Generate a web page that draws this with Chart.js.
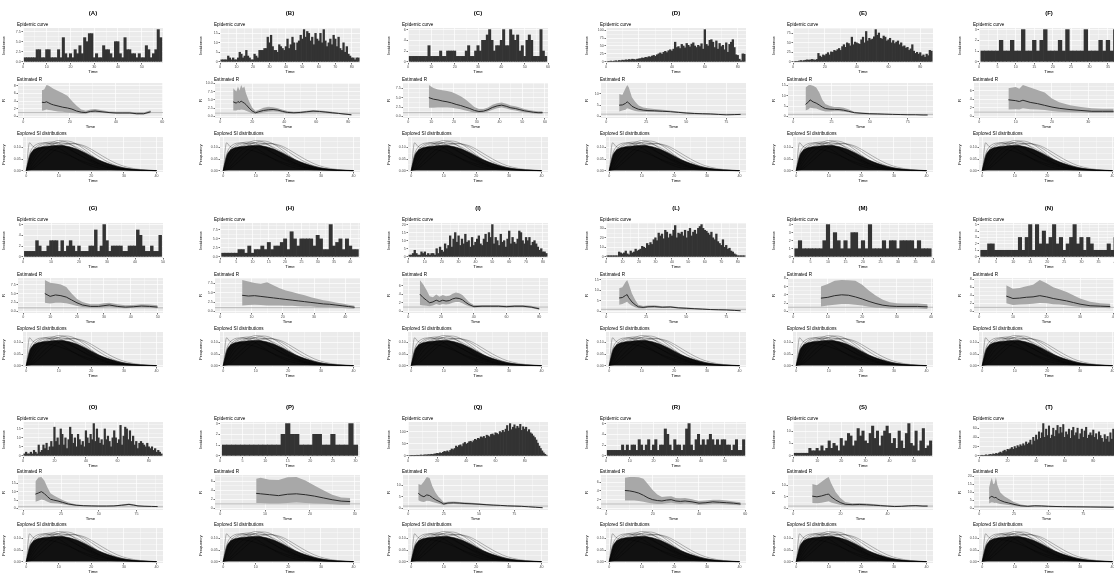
<!DOCTYPE html>
<html>
<head>
<meta charset="utf-8">
<script src="https://cdn.jsdelivr.net/npm/chart.js@4"></script>
<style>
  body { margin: 0; background: #fff; width: 1114px; height: 573px; overflow: hidden; position: relative; font-family: "Liberation Sans", Arial, sans-serif; }
  canvas { position: absolute; }
</style>
</head>
<body>
<script>
// panel letters, row by row
const letters = ['A','B','C','D','E','F','G','H','I','L','M','N','O','P','Q','R','S','T'];

// axis break steps per panel
const epiTimeStep = [10,10,10,20,20,5, 10,5,10,10,5,5, 20,5,20,10,10,20];
const epiStep     = [2.5,5,2,25,25,1, 2,2.5,5,10,1,1, 5,1,50,2,5,20];
const rTimeStep   = [20,20,10,25,25,10, 10,10,20,25,10,10, 25,10,25,20,20,25];
const rStep       = [2,2.5,2.5,5,5,2, 2.5,2.5,2,5,2,2, 5,2,5,2,5,5];

// daily incidence
const epiA = [1,1,1,1,1,3,3,1,1,3,3,1,1,1,3,1,6,2,1,2,1,3,2,4,2,6,5,7,7,1,2,1,1,4,3,3,2,1,5,5,2,1,6,3,3,2,2,1,2,1,1,4,3,1,2,3,8,6];
const epiB = [1,1,1,1,3,2,1,2,1,1,2,5,4,2,3,6,3,2,1,1,4,3,2,6,6,6,7,7,13,10,14,8,6,6,5,9,8,7,6,8,12,7,9,13,10,6,10,11,14,12,17,13,16,15,11,13,9,15,12,11,15,10,17,11,8,10,12,9,14,12,8,13,7,6,10,5,8,4,3,2,2,1,2,2];
const epiC = [1,1,1,1,1,1,1,1,3,1,1,1,1,2,1,1,2,2,2,2,1,1,1,1,2,3,1,1,2,3,2,4,4,5,6,4,2,3,3,4,6,3,3,6,5,4,5,2,3,1,4,5,4,1,1,1,6,2,1];
const epiD = [0,1,2,1,2,3,2,4,3,5,4,6,5,7,6,8,7,6,8,9,10,12,11,14,13,16,15,18,20,17,22,25,28,24,30,33,29,35,38,34,40,62,45,48,42,55,50,44,58,52,47,56,60,50,45,52,48,57,40,102,55,50,68,70,62,45,66,40,58,48,52,38,60,30,55,62,70,45,22,20,8,3,25,24];
const epiE = [0,1,1,2,3,2,3,4,5,4,5,6,5,4,6,22,15,12,18,16,20,24,18,26,25,30,28,32,35,30,40,45,38,50,48,42,65,45,52,50,48,46,58,65,50,80,55,62,58,60,66,85,70,76,62,60,68,65,55,58,62,50,56,48,52,55,45,50,40,42,36,38,30,34,45,28,22,25,20,24,15,18,12,20,16,30,28];
const epiF = [1,1,1,1,1,2,1,1,2,1,1,3,1,1,2,1,2,3,1,1,1,2,1,3,1,1,1,1,3,1,1,1,2,1,2,1,3];
const epiG = [1,1,1,1,3,2,1,1,2,3,3,3,1,3,1,2,3,2,1,2,1,1,1,2,2,5,1,2,6,3,1,2,2,2,2,1,1,2,2,2,5,4,2,1,1,2,1,1,4];
const epiH = [1,1,1,1,1,2,2,1,3,1,2,2,3,2,4,2,3,3,4,5,2,7,5,3,5,5,5,5,3,6,5,2,2,9,3,4,5,2,5,3,2,2];
const epiI = [1,1,2,4,2,1,1,3,2,3,1,2,1,2,2,1,5,2,6,4,3,8,5,7,13,6,11,15,9,13,7,11,8,14,9,10,6,12,7,9,11,13,8,7,11,14,9,15,12,20,8,12,10,7,14,9,10,6,11,16,8,12,9,8,11,16,15,10,8,12,10,12,7,9,10,8,6,4,5,3,3,2];
const epiL = [1,1,1,1,1,1,1,5,4,3,4,6,3,2,6,4,5,8,6,7,8,11,10,9,14,12,15,13,18,20,17,25,22,24,19,28,26,20,24,22,28,33,20,25,24,26,22,28,20,27,30,22,26,28,24,30,32,34,30,28,27,25,23,26,20,18,24,16,14,12,18,10,12,8,9,6,5,3,2,1,1,1,1,1];
const epiM = [1,2,1,1,1,1,1,1,2,4,1,3,2,1,2,1,3,3,1,2,1,4,1,1,1,2,1,2,2,1,2,2,2,2,1,2,1,1,1];
const epiN = [1,1,2,2,1,1,1,1,1,1,1,3,1,3,5,1,5,2,4,2,3,5,2,3,1,2,3,5,2,3,1,3,2,1,1,1,1,2,1,3];
const epiO = [1,2,1,1,2,1,3,2,1,6,2,3,6,4,7,3,5,8,5,16,8,10,6,15,12,6,10,4,9,16,12,7,10,5,12,9,6,8,5,14,10,7,12,9,18,8,15,10,7,9,6,15,9,11,8,5,10,14,10,7,9,17,6,11,16,15,9,14,8,11,6,8,4,7,8,7,6,5,7,5,4,5,3,4,2,3,2,1];
const epiP = [1,1,1,1,1,1,1,1,1,1,1,1,1,2,3,2,2,1,1,1,2,2,1,1,2,1,1,1,3,1];
const epiQ = [0,0,1,0,1,2,1,2,3,2,3,4,3,5,4,6,5,7,8,10,9,12,10,14,18,16,20,15,22,28,25,30,40,35,42,45,38,50,55,48,52,58,60,55,62,68,65,72,70,78,75,80,72,85,82,78,88,90,84,95,92,88,100,96,105,98,110,125,102,133,108,118,128,112,122,115,130,105,120,110,118,100,108,95,90,82,75,65,52,40,30,20,12,6,2];
const epiR = [1,1,1,1,1,1,2,1,2,1,2,2,1,3,2,1,2,3,1,2,3,1,2,2,5,4,2,1,3,2,2,1,2,5,6,2,1,3,4,2,3,2,3,4,3,2,3,2,3,3,2,2,1,2,3,1,1,3];
const epiS = [1,1,1,1,1,1,3,2,2,3,2,4,2,3,6,3,5,4,2,7,4,6,9,8,4,6,11,8,10,6,5,9,12,7,10,4,8,10,12,9,5,7,3,10,6,3,9,13,5,4,10,2,6,11,3,4,6];
const epiT = [0,1,0,1,2,1,2,3,2,4,3,5,4,6,8,6,10,12,9,14,13,15,18,14,20,16,22,19,24,21,26,22,30,25,28,34,24,40,32,45,35,52,38,50,70,40,58,44,65,38,45,60,42,55,66,48,62,50,68,40,52,46,58,38,55,62,44,50,60,36,48,58,40,54,62,38,45,50,44,56,40,48,35,52,44,38,30,46,36,42,30,50,36,58,44,28,60];

// estimated R: time, mean, lower and upper bound
const rtA = [8,9,10,11,12,13,15,17,19,21,23,25,27,29,31,34,37,40,43,46,49,52,55];
const rmA = [3.7,3.6,3.8,3.5,3.2,3.0,2.7,2.4,2.2,1.9,1.4,1.1,1.0,1.3,1.4,1.2,1.0,0.9,0.9,0.9,0.7,0.7,1.2];
const rlA = [1.5,1.6,1.8,1.7,1.6,1.5,1.3,1.2,1.0,0.9,0.8,0.7,0.7,1.0,1.1,0.9,0.8,0.7,0.7,0.7,0.5,0.5,0.9];
const ruA = [6.8,7.0,8.2,8.0,7.6,7.2,6.6,6.0,5.4,4.0,2.8,1.8,1.5,1.8,1.9,1.6,1.3,1.2,1.2,1.2,1.0,1.0,1.6];

const rtB = [8,10,11,12,13,14,15,16,18,20,22,24,27,30,33,36,39,42,46,50,54,58,62,66,70,74,78,82];
const rmB = [4.4,4.0,4.5,4.2,4.6,4.3,4.0,3.6,2.5,1.6,1.1,1.4,1.8,2.0,2.1,1.9,1.5,1.2,1.1,1.2,1.4,1.6,1.5,1.3,1.1,0.9,0.7,0.5];
const rlB = [1.8,1.8,2.0,1.9,2.1,2.0,1.9,1.7,1.3,0.9,0.7,0.9,1.2,1.4,1.5,1.4,1.1,0.9,0.8,0.9,1.1,1.2,1.2,1.0,0.8,0.7,0.5,0.3];
const ruB = [8.5,7.5,9.0,7.8,9.5,8.5,9.0,7.0,4.5,2.6,1.6,2.0,2.6,2.9,2.8,2.5,2.0,1.6,1.4,1.5,1.7,1.9,1.8,1.6,1.4,1.1,0.9,0.7];

const rtC = [9,11,13,15,17,19,21,23,25,27,29,31,33,35,37,39,41,43,45,47,49,51,53,55,57,59];
const rmC = [5.0,4.6,4.4,4.1,3.9,3.6,3.2,2.9,2.5,2.1,1.6,1.3,1.4,1.8,2.4,2.8,3.0,2.7,2.3,2.1,1.8,1.5,1.3,1.1,1.0,1.0];
const rlC = [2.3,2.3,2.4,2.4,2.4,2.3,2.1,1.9,1.6,1.3,1.0,0.9,1.0,1.3,1.8,2.2,2.4,2.1,1.8,1.6,1.3,1.1,0.9,0.8,0.7,0.7];
const ruC = [8.4,7.6,7.2,7.0,6.8,6.5,6.0,5.4,4.6,3.6,2.5,2.0,2.0,2.4,3.1,3.5,3.7,3.4,2.9,2.7,2.4,2.0,1.7,1.5,1.4,1.4];

const rtD = [8,10,12,13,14,16,18,20,23,26,30,35,40,45,50,55,60,65,70,75,80,84];
const rmD = [5.0,5.1,5.8,6.5,6.0,4.5,3.8,3.2,2.8,2.6,2.5,2.3,2.1,1.8,1.5,1.3,1.2,1.1,0.9,0.7,0.8,0.9];
const rlD = [2.2,2.6,3.0,3.6,3.4,2.8,2.4,2.2,2.1,2.0,2.0,1.9,1.8,1.6,1.3,1.1,1.0,0.9,0.8,0.6,0.7,0.8];
const ruD = [10.0,9.5,12.5,14.0,13.0,8.5,6.5,5.0,4.0,3.6,3.3,3.0,2.6,2.2,1.8,1.6,1.4,1.3,1.1,0.9,1.0,1.1];

const rtE = [8,10,11,13,15,17,19,21,24,27,30,33,36,40,45,50,55,60,65,70,75,80,85,88];
const rmE = [5.8,7.0,8.0,7.0,6.4,5.5,4.5,3.8,3.5,3.4,3.3,3.0,2.5,1.8,1.5,1.3,1.2,1.1,1.0,0.9,0.8,0.8,0.7,0.7];
const rlE = [2.8,3.5,4.2,4.0,3.8,3.2,2.7,2.4,2.4,2.5,2.5,2.3,2.0,1.5,1.2,1.1,1.0,0.9,0.9,0.8,0.7,0.7,0.6,0.6];
const ruE = [14.0,15.0,15.2,14.8,14.0,11.5,8.0,6.0,5.0,4.6,4.5,4.2,3.4,2.3,1.9,1.6,1.5,1.3,1.2,1.1,1.0,0.9,0.8,0.8];

const rtF = [8,10,11,12,14,16,18,20,22,25,28,31,34,37];
const rmF = [3.9,3.7,3.5,3.8,3.3,3.0,2.6,2.2,1.9,1.6,1.4,1.2,1.2,1.2];
const rlF = [1.6,1.7,1.6,1.9,1.7,1.6,1.5,1.3,1.1,1.0,0.9,0.8,0.8,0.8];
const ruF = [6.6,6.9,6.5,7.4,6.8,6.2,5.6,4.2,3.3,2.6,2.2,1.9,1.8,1.8];

const rtG = [8,10,12,14,16,18,20,22,25,28,30,32,35,38,41,44,47,50];
const rmG = [5.0,4.2,4.6,4.4,4.0,3.2,2.4,1.8,1.4,1.4,1.6,1.8,1.4,1.2,1.3,1.5,1.4,1.2];
const rlG = [2.4,2.2,2.4,2.4,2.3,1.9,1.5,1.2,1.0,1.0,1.1,1.2,1.0,0.9,1.0,1.1,1.0,0.9];
const ruG = [8.8,8.0,7.8,7.5,6.8,5.0,3.5,2.6,2.0,2.0,2.3,2.4,2.0,1.7,1.8,2.0,1.9,1.7];

const rtH = [7,9,11,13,15,17,19,21,23,25,27,29,31,33,35,37,39,41,43];
const rmH = [4.3,4.1,4.2,4.0,3.8,3.6,3.4,3.2,3.0,2.8,2.6,2.4,2.2,2.0,1.9,1.7,1.5,1.3,1.1];
const rlH = [1.6,1.7,1.8,1.7,1.6,1.6,1.6,1.5,1.5,1.4,1.3,1.3,1.2,1.1,1.1,1.0,0.9,0.8,0.7];
const ruH = [8.4,8.0,7.6,7.4,7.8,7.0,6.2,5.6,5.2,4.7,4.3,3.8,3.4,3.0,2.7,2.4,2.1,1.8,1.5];

const rtI = [7,9,11,13,15,17,19,21,23,25,27,29,31,33,35,37,40,45,50,55,60,65,70,75,80];
const rmI = [4.0,3.2,2.6,2.0,2.2,2.6,2.3,2.6,2.4,2.5,2.9,3.1,3.0,2.7,2.1,1.6,1.1,1.2,1.2,1.2,1.1,1.2,1.2,1.0,0.6];
const rlI = [1.5,1.4,1.3,1.2,1.4,1.7,1.5,1.7,1.6,1.7,2.0,2.2,2.2,1.9,1.5,1.2,0.9,1.0,1.0,1.0,0.9,1.0,1.0,0.8,0.4];
const ruI = [7.3,6.3,5.0,3.5,3.3,3.9,3.4,3.8,3.5,3.6,4.1,4.4,4.2,3.8,3.0,2.2,1.5,1.5,1.5,1.5,1.4,1.5,1.5,1.3,0.9];

const rtL = [8,10,12,13,14,16,18,20,23,26,30,35,40,45,50,55,60,65,70,75,80,84];
const rmL = [6.4,6.6,7.6,8.0,6.5,4.5,3.2,2.2,1.9,2.2,2.3,2.0,2.1,1.7,1.5,1.3,1.1,0.9,0.8,0.7,0.5,0.3];
const rlL = [3.2,3.5,4.2,4.6,3.8,2.7,2.0,1.5,1.4,1.7,1.8,1.6,1.7,1.4,1.2,1.1,0.9,0.7,0.6,0.5,0.4,0.2];
const ruL = [11.0,11.5,14.0,15.0,13.0,8.5,5.5,3.2,2.6,2.8,2.9,2.5,2.6,2.1,1.9,1.6,1.4,1.2,1.0,0.9,0.7,0.5];

const rtM = [8,10,12,14,16,18,20,22,24,26,28,30,33,36,39];
const rmM = [3.2,3.4,3.8,4.0,3.9,3.5,3.0,2.4,1.9,1.5,1.3,1.2,1.2,1.2,1.1];
const rlM = [1.2,1.4,1.6,1.8,1.8,1.6,1.4,1.1,0.9,0.8,0.7,0.7,0.7,0.7,0.6];
const ruM = [6.0,6.6,7.4,7.6,7.5,7.4,6.4,5.0,3.8,2.8,2.2,2.0,1.9,1.9,1.7];

const rtN = [8,10,12,14,16,18,20,22,24,26,28,30,33,36,39];
const rmN = [3.8,3.2,3.3,3.5,3.6,3.9,3.6,3.2,2.9,2.6,2.2,1.8,1.4,1.3,1.2];
const rlN = [2.0,1.6,1.7,1.8,1.9,2.1,2.0,1.8,1.7,1.5,1.3,1.1,0.9,0.9,0.8];
const ruN = [6.5,5.6,5.8,6.2,6.6,7.8,7.0,6.0,5.4,4.8,4.0,3.2,2.4,2.0,1.9];

const rtO = [8,10,12,14,16,18,20,23,26,30,35,40,45,50,55,60,65,70,73,76,80,85,89];
const rmO = [8.5,9.2,10.0,8.8,7.0,5.5,5.0,4.4,3.6,2.6,1.9,1.6,1.5,1.4,1.4,1.5,1.9,2.4,2.0,1.5,1.3,1.2,1.1];
const rlO = [4.0,4.6,5.3,4.8,4.0,3.3,3.1,2.9,2.5,1.9,1.5,1.3,1.2,1.1,1.1,1.2,1.5,1.9,1.6,1.2,1.0,0.9,0.8];
const ruO = [16.0,18.5,18.8,16.5,12.5,9.0,7.8,6.4,5.0,3.5,2.4,2.0,1.8,1.7,1.7,1.8,2.3,2.9,2.5,1.9,1.6,1.5,1.4];

const rtP = [8,9,11,13,15,17,19,21,23,25,27,29];
const rmP = [3.3,3.2,3.0,2.8,3.1,3.2,3.0,2.7,2.3,1.9,1.6,1.5];
const rlP = [1.2,1.2,1.1,1.1,1.2,1.3,1.2,1.1,1.0,0.9,0.8,0.8];
const ruP = [6.5,6.7,6.3,6.2,6.8,6.9,6.1,5.0,4.0,3.0,2.4,2.3];

const rtQ = [7,9,11,13,15,17,19,21,23,25,28,32,36,40,45,50,55,60,65,70,75,80,85,90,95];
const rmQ = [6.5,5.5,5.0,5.8,5.5,4.6,3.8,3.2,2.6,1.9,2.3,2.4,2.3,2.1,2.0,1.8,1.6,1.4,1.3,1.1,1.0,0.9,0.7,0.5,0.3];
const rlQ = [3.5,3.0,2.8,3.3,3.2,2.8,2.4,2.1,1.8,1.4,1.8,1.9,1.8,1.7,1.6,1.5,1.3,1.2,1.1,0.9,0.8,0.7,0.6,0.4,0.2];
const ruQ = [10.5,10.0,11.5,13.5,13.0,9.5,7.0,5.2,4.0,2.6,2.9,3.0,2.8,2.6,2.4,2.2,1.9,1.7,1.5,1.3,1.2,1.1,0.9,0.7,0.5];

const rtR = [8,10,12,14,16,18,20,22,24,26,28,30,32,34,37,40,43,46,49,52,55,58];
const rmR = [4.1,4.0,3.8,3.5,3.0,2.4,2.0,1.8,1.7,1.9,2.0,1.7,1.6,1.7,1.5,1.2,1.3,1.5,1.4,1.3,1.2,1.0];
const rlR = [1.8,1.8,1.8,1.7,1.5,1.3,1.1,1.0,1.0,1.2,1.3,1.1,1.0,1.1,1.0,0.8,0.9,1.0,1.0,0.9,0.8,0.7];
const ruR = [7.0,7.2,7.2,7.1,6.8,5.5,4.2,3.2,2.6,2.7,2.8,2.4,2.3,2.4,2.1,1.7,1.8,2.0,2.0,1.8,1.6,1.4];

const rtS = [8,10,12,14,15,16,18,20,22,25,28,31,34,37,40,43,46,49,52,55,57];
const rmS = [5.3,5.0,5.4,6.0,6.2,5.0,3.6,2.5,1.8,1.6,1.7,1.6,1.4,1.2,1.0,0.8,0.9,1.1,1.2,1.0,1.0];
const rlS = [2.3,2.2,2.5,2.9,3.1,2.6,2.0,1.5,1.2,1.1,1.2,1.2,1.0,0.9,0.8,0.6,0.7,0.9,0.9,0.8,0.8];
const ruS = [10.5,10.0,11.5,13.0,13.6,11.0,7.0,4.5,2.8,2.2,2.3,2.1,1.9,1.6,1.3,1.1,1.2,1.4,1.5,1.3,1.3];

const rtT = [7,8,9,10,11,12,13,15,18,21,25,30,35,40,45,50,60,70,80,90,97];
const rmT = [6.2,7.0,7.5,7.0,6.6,6.8,6.0,5.0,4.0,3.4,2.5,1.6,1.3,1.6,1.5,1.3,1.1,1.0,0.9,0.8,0.7];
const rlT = [3.0,3.5,3.8,3.6,3.4,3.5,3.2,2.8,2.4,2.1,1.7,1.1,1.0,1.2,1.2,1.0,0.9,0.8,0.7,0.6,0.5];
const ruT = [13.0,16.5,19.0,15.0,15.5,19.5,14.5,10.0,7.5,6.0,4.0,2.4,1.8,2.1,2.0,1.7,1.4,1.2,1.1,1.0,0.9];

// explored serial interval distributions (same set in every panel)
const siTime = [0,1,2,3,4,6,8,10,12,14,16,18,20,22,25,28,31,35,40];
const siMass = [0,0.062,0.086,0.095,0.1,0.104,0.107,0.108,0.106,0.1,0.09,0.077,0.062,0.047,0.031,0.018,0.009,0.003,0];
const si1 = [0,0.120,0.105,0.098,0.097,0.095,0.090,0.082,0.072,0.060,0.048,0.037,0.028,0.020,0.012,0.007,0.004,0.001,0];
const si2 = [0,0.030,0.060,0.080,0.095,0.110,0.122,0.130,0.125,0.110,0.090,0.068,0.048,0.032,0.017,0.008,0.003,0.001,0];
const si3 = [0,0.010,0.030,0.050,0.068,0.092,0.110,0.122,0.128,0.124,0.110,0.090,0.068,0.048,0.026,0.012,0.005,0.001,0];
const si4 = [0,0.070,0.100,0.112,0.118,0.120,0.112,0.098,0.080,0.062,0.045,0.031,0.020,0.012,0.006,0.002,0.001,0,0];
const si5 = [0,0.005,0.015,0.030,0.045,0.072,0.095,0.110,0.117,0.118,0.112,0.100,0.082,0.063,0.038,0.020,0.009,0.002,0];
const si6 = [0,0.050,0.085,0.102,0.112,0.121,0.124,0.118,0.105,0.088,0.070,0.053,0.038,0.026,0.013,0.006,0.002,0.001,0];
const si7 = [0,0.002,0.008,0.018,0.030,0.055,0.080,0.100,0.112,0.116,0.114,0.106,0.092,0.075,0.050,0.029,0.015,0.005,0];
const si8 = [0,0.040,0.072,0.092,0.105,0.116,0.118,0.112,0.100,0.085,0.070,0.056,0.043,0.032,0.019,0.010,0.005,0.001,0];
const si9 = [0,0.020,0.045,0.068,0.085,0.105,0.116,0.120,0.118,0.110,0.097,0.081,0.064,0.048,0.029,0.016,0.008,0.002,0];
const siLines = [si1, si2, si3, si4, si5, si6, si7, si8, si9];

const epiData = {A: epiA, B: epiB, C: epiC, D: epiD, E: epiE, F: epiF, G: epiG, H: epiH, I: epiI,
  L: epiL, M: epiM, N: epiN, O: epiO, P: epiP, Q: epiQ, R: epiR, S: epiS, T: epiT};
const rData = {
  A: [rtA, rmA, rlA, ruA], B: [rtB, rmB, rlB, ruB], C: [rtC, rmC, rlC, ruC], D: [rtD, rmD, rlD, ruD],
  E: [rtE, rmE, rlE, ruE], F: [rtF, rmF, rlF, ruF], G: [rtG, rmG, rlG, ruG], H: [rtH, rmH, rlH, ruH],
  I: [rtI, rmI, rlI, ruI], L: [rtL, rmL, rlL, ruL], M: [rtM, rmM, rlM, ruM], N: [rtN, rmN, rlN, ruN],
  O: [rtO, rmO, rlO, ruO], P: [rtP, rmP, rlP, ruP], Q: [rtQ, rmQ, rlQ, ruQ], R: [rtR, rmR, rlR, ruR],
  S: [rtS, rmS, rlS, ruS], T: [rtT, rmT, rlT, ruT]
};

// layout
const colLeft = [23, 220, 408, 606, 793, 979];
const rowTops = [[28, 83, 137], [223, 278, 332], [422, 475, 528]];
const plotW = 140;

Chart.defaults.font.family = '"Liberation Sans", Arial, sans-serif';

function pts(xs, ys) { return xs.map((x, i) => ({ x: x, y: ys[i] })); }
function decimals(step) { const s = String(step); return s.includes('.') ? s.split('.')[1].length : 0; }
function isMajor(v, step) { const q = v / step; return Math.abs(q - Math.round(q)) < 1e-6; }

function axis(min, max, step, title, side) {
  const dec = decimals(step);
  const major = c => c.tick && isMajor(c.tick.value, step);
  return {
    type: 'linear', min: min, max: max, offset: false,
    ticks: {
      stepSize: step / 2, includeBounds: false, autoSkip: false, maxRotation: 0, padding: 0.8,
      color: '#4D4D4D', font: { size: 3.6 },
      callback: v => isMajor(v, step) ? Number(v).toFixed(dec) : ''
    },
    grid: {
      offset: false, color: '#FFFFFF', lineWidth: c => major(c) ? 0.7 : 0.35,
      tickLength: 1.5, tickColor: c => major(c) ? '#333333' : 'rgba(0,0,0,0)'
    },
    border: { display: false },
    title: { display: true, text: title, color: '#000', font: { size: 4.3 }, padding: 0 },
    afterFit: s => { if (side === 'x') s.height = 11; else s.width = side; }
  };
}

// grey panel background, R = 1 line, subplot captions and panel letters
Chart.register({
  id: 'panel',
  beforeDraw(chart) {
    const a = chart.chartArea, ctx = chart.ctx;
    ctx.save();
    ctx.fillStyle = '#EBEBEB';
    ctx.fillRect(a.left, a.top, a.right - a.left, a.bottom - a.top);
    ctx.restore();
  },
  beforeDatasetsDraw(chart, args, o) {
    if (!o.refLine) return;
    const a = chart.chartArea, ctx = chart.ctx, y = chart.scales.y.getPixelForValue(o.refLine);
    ctx.save();
    ctx.strokeStyle = '#A3A3A3'; ctx.lineWidth = 0.7;
    ctx.beginPath(); ctx.moveTo(a.left, y); ctx.lineTo(a.right, y); ctx.stroke();
    ctx.restore();
  },
  afterDraw(chart, args, o) {
    const a = chart.chartArea, ctx = chart.ctx;
    ctx.save();
    ctx.fillStyle = '#000';
    if (o.label) {
      ctx.font = '4.6px "Liberation Sans", Arial, sans-serif';
      ctx.fillText(o.label, 16, a.top - 2.2);
    }
    if (o.letter) {
      ctx.font = 'bold 6px "Liberation Sans", Arial, sans-serif';
      ctx.textAlign = 'center';
      ctx.fillText(o.letter, (a.left + a.right) / 2, a.top - 13);
    }
    ctx.restore();
  }
});

function makeCanvas(left, top, w, h) {
  const c = document.createElement('canvas');
  c.width = w; c.height = h;
  c.style.left = left + 'px'; c.style.top = top + 'px';
  c.style.width = w + 'px'; c.style.height = h + 'px';
  document.body.appendChild(c);
  return c;
}

function opts(x, y, label, extra, padTop) {
  return {
    responsive: false, animation: false, events: [],
    layout: { padding: { top: padTop || 9, right: 4, left: 0, bottom: 0 } },
    plugins: { legend: { display: false }, tooltip: { enabled: false },
      panel: Object.assign({ label: label }, extra || {}) },
    scales: { x: x, y: y }
  };
}

letters.forEach((L, k) => {
  const col = k % 6, row = Math.floor(k / 6);
  const x0 = colLeft[col] - 22, tops = rowTops[row];

  // epidemic curve (its canvas also carries the panel letter)
  const epi = epiData[L], n = epi.length, eMax = Math.max(...epi);
  new Chart(makeCanvas(x0, tops[0] - 20, 22 + plotW + 4, 66), {
    type: 'bar',
    data: { datasets: [{
      data: epi.map((v, i) => ({ x: i + 1, y: v })),
      backgroundColor: '#333333', borderWidth: 0, barPercentage: 1, categoryPercentage: 1
    }] },
    options: opts(axis(0, n + 1, epiTimeStep[k], 'Time', 'x'),
                  axis(-eMax * 0.04, eMax * 1.05, epiStep[k], 'Incidence', 22),
                  'Epidemic curve', { letter: '(' + L + ')' }, 20)
  });

  // estimated R (lower order is drawn on top)
  const [rt, rm, rl, ru] = rData[L];
  const hiMax = Math.max(...ru), tEnd = Math.max(rt[rt.length - 1], n);
  new Chart(makeCanvas(x0, tops[1] - 9, 22 + plotW + 4, 55), {
    type: 'line',
    data: { datasets: [
      { data: pts(rt, ru), borderWidth: 0, pointRadius: 0, fill: '+1', backgroundColor: '#A8A8A8', order: 3 },
      { data: pts(rt, rl), borderWidth: 0, pointRadius: 0, fill: false, order: 2 },
      { data: pts(rt, rm), borderColor: '#2B2B2B', borderWidth: 1, pointRadius: 0, fill: false, order: 1 }
    ] },
    options: opts(axis(-0.04 * n, tEnd * 1.04, rTimeStep[k], 'Time', 'x'),
                  axis(-hiMax * 0.05, hiMax * 1.06, rStep[k], 'R', 17), 'Estimated R', { refLine: 1 })
  });

  // explored SI distributions: dense mass first, then the outlying curves
  const siSets = [{
    data: pts(siTime, siMass), borderColor: '#111', borderWidth: 0.6, backgroundColor: '#111',
    fill: 'origin', pointRadius: 0, cubicInterpolationMode: 'monotone', order: 20
  }].concat(siLines.map((s, j) => ({
    data: pts(siTime, s), borderColor: 'rgba(0,0,0,0.55)', borderWidth: 0.5,
    fill: false, pointRadius: 0, cubicInterpolationMode: 'monotone', order: j + 1
  })));
  new Chart(makeCanvas(x0, tops[2] - 9, 22 + plotW + 4, 55), {
    type: 'line',
    data: { datasets: siSets },
    options: opts(axis(-1, 42, 10, 'Time', 'x'), axis(-0.006, 0.145, 0.05, 'Frequency', 22), 'Explored SI distributions')
  });
});
</script>
</body>
</html>
